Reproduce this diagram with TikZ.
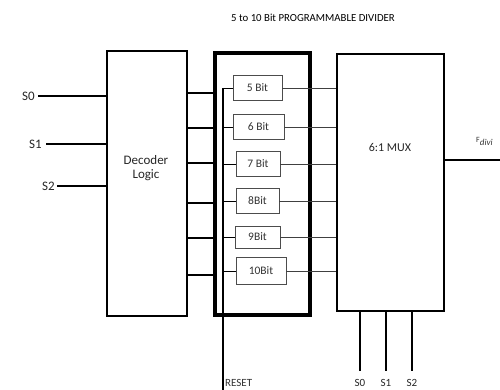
\documentclass[tikz,border=0pt]{standalone}
\usepackage{fontspec}
\setmainfont{Carlito}
\begin{document}
\begin{tikzpicture}[x=1pt,y=-1pt,
  blk/.style={draw, rectangle, anchor=north west, inner sep=0pt},
  bitbox/.style={draw=black!70, line width=0.9pt, rectangle, minimum width=48pt, minimum height=25pt, inner sep=0pt, font=\fontsize{11.5}{12}\selectfont, text=black!80},
  inwire/.style={line width=1.8pt},
  outwire/.style={line width=0.9pt, draw=black!75},
  sel/.style={line width=2pt},
  lbl/.style={font=\fontsize{13}{14}\selectfont, inner sep=0pt, text=black!85}]
\useasboundingbox (0,0) rectangle (500,390);
% title
\node[font=\fontsize{10.8}{12}\selectfont, inner sep=0pt] (title) at (313,18) {5 to 10 Bit PROGRAMMABLE DIVIDER};
% main blocks
\node[blk, line width=2pt, minimum width=80pt, minimum height=265pt] (dec) at (106,50) {};
\node[lbl, align=center, font=\fontsize{13}{14}\selectfont] (dect) at (146,168) {Decoder\\Logic};
\node[blk, line width=4pt, minimum width=95pt, minimum height=262pt] (div) at (213,51) {};
\node[blk, line width=2.2pt, minimum width=107pt, minimum height=257pt] (mux) at (336,53) {};
\node[lbl, font=\fontsize{12}{13}\selectfont] (muxt) at (390,147) {6:1 MUX};
% bit boxes
\node[bitbox, minimum width=49pt] (b5) at (257.5,88) {5 Bit};
\node[bitbox, minimum width=51pt] (b6) at (258.5,127) {6 Bit};
\node[bitbox, minimum width=44pt] (b7) at (258,164) {7 Bit};
\node[bitbox, minimum width=43pt] (b8) at (257.5,201) {8Bit};
\node[bitbox, minimum width=45pt, minimum height=22pt] (b9) at (257.5,237) {9Bit};
\node[bitbox, minimum width=50pt, minimum height=27pt] (b10) at (261,271) {10Bit};
% select inputs left
\coordinate (s0e) at (38,96);
\coordinate (s1e) at (46,144);
\coordinate (s2e) at (57,186);
\node[lbl, anchor=east] (s0l) at (35,96) {S0};
\node[lbl, anchor=east] (s1l) at (42,144) {S1};
\node[lbl, anchor=east] (s2l) at (55,186) {S2};
\draw[sel] (s0e) -- (dec.west |- s0e);
\draw[sel] (s1e) -- (dec.west |- s1e);
\draw[sel] (s2e) -- (dec.west |- s2e);
% decoder to divider
\foreach \n/\y in {1/93,2/128,3/163,4/203,5/238,6/275}{
  \coordinate (L\n) at (0,\y);
  \draw[inwire] (dec.east |- L\n) -- (div.west |- L\n);
}
% reset bus
\coordinate (bustop) at (223,88);
\coordinate (reset) at (223,392);
\draw[line width=1.6pt] (bustop) -- (reset);
\node[font=\fontsize{11}{12}\selectfont, anchor=west, inner sep=0pt, text=black!80] (resetl) at (225,383) {RESET};
\foreach \b in {b5,b6,b7,b8,b9,b10}{
  \draw[line width=0.9pt] (\b.west -| bustop) -- (\b.west);
}
% divider to mux
\foreach \b in {b5,b6,b7,b8,b9,b10}{
  \draw[outwire] (\b.east) -- (mux.west |- \b.east);
}
% output
\coordinate (fout) at (500,160);
\draw[line width=2pt] (mux.east |- fout) -- (fout);
\node[anchor=west, inner sep=0pt, text=black!80] (fl) at (476,141) {\fontsize{8}{9}\selectfont F\raisebox{-3pt}{\fontsize{9}{10}\selectfont\itshape divi}};
% mux select lines
\foreach \n/\x in {0/360,1/386,2/412}{
  \coordinate (m\n) at (\x,371);
  \draw[sel] (mux.south -| m\n) -- (m\n);
  \node[font=\fontsize{11}{12}\selectfont, inner sep=0pt, text=black!85] (ml\n) at (\x,383) {S\n};
}
\end{tikzpicture}
\end{document}
